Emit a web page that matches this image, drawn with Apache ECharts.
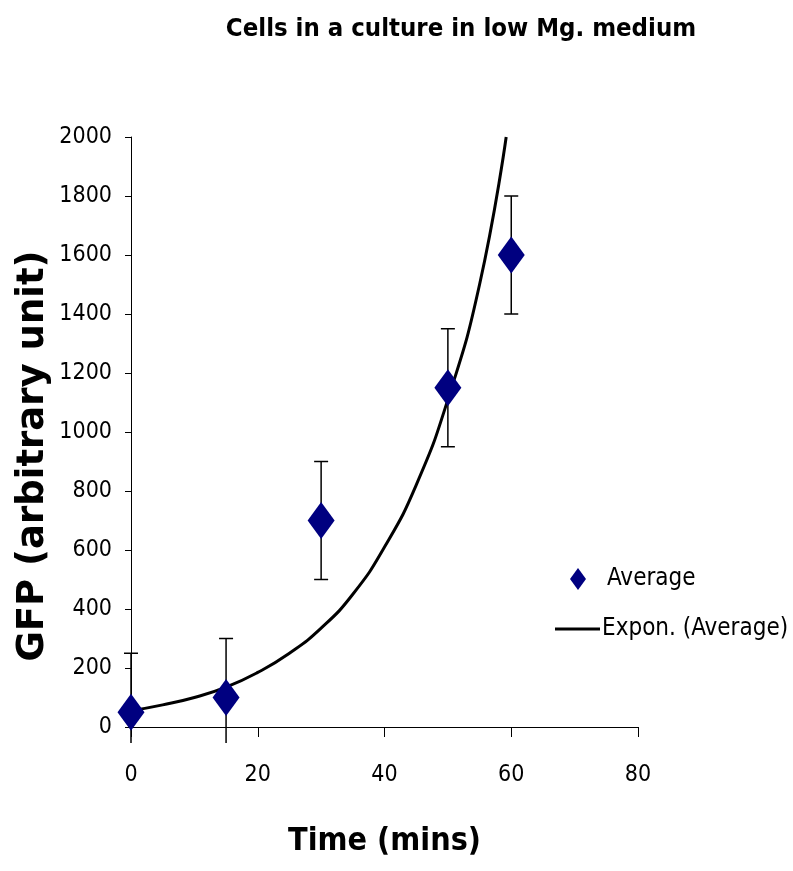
<!DOCTYPE html>
<html>
<head>
<meta charset="utf-8">
<script src="https://cdn.jsdelivr.net/npm/echarts@6/dist/echarts.min.js"></script>
<style>
  html, body { margin: 0; padding: 0; background: #fff; }
  #chart { width: 793px; height: 871px; }
</style>
</head>
<body>
<div id="chart"></div>
<script>
// Measured GFP averages over time, with symmetric error (same units)
var times = [0, 15, 30, 50, 60];
var averages = [50, 100, 700, 1150, 1600];
var errors = [200, 200, 200, 200, 200];

// Exponential trendline of the averages, sampled along the curve
var trendX = [0, 5, 10, 15, 20, 25, 30, 35, 40, 45, 50, 55, 59.2];
var trendY = [55, 75, 100, 135, 185, 250, 335, 450, 610, 820, 1110, 1500, 2000];

var xTicks = [0, 20, 40, 60, 80];
var yTicks = [0, 200, 400, 600, 800, 1000, 1200, 1400, 1600, 1800, 2000];

var sans = '"DejaVu Sans Condensed", "Liberation Sans", Arial, sans-serif';

var chart = echarts.init(document.getElementById('chart'), null, { renderer: 'canvas' });

var avgData = times.map(function (t, i) { return [t, averages[i]]; });
var errData = times.map(function (t, i) { return [t, averages[i] - errors[i], averages[i] + errors[i]]; });
var trendData = trendX.map(function (t, i) { return [t, trendY[i]]; });

chart.setOption({
  animation: false,
  backgroundColor: '#ffffff',
  title: {
    text: 'Cells in a culture in low Mg. medium',
    left: 456,
    top: 11,
    textAlign: 'center',
    textStyle: { fontFamily: sans, fontWeight: 'bold', fontSize: 25.5, color: '#000' }
  },
  legend: [
    {
      data: [{ name: 'Average', icon: 'diamond' }],
      left: 570, top: 567, padding: 0,
      itemWidth: 16, itemHeight: 22,
      textStyle: { fontFamily: sans, fontSize: 24, color: '#000', padding: [0, 0, 0, 16] }
    },
    {
      data: [{ name: 'Expon. (Average)', icon: 'rect', itemStyle: { color: '#000' } }],
      left: 555, top: 617, padding: 0,
      itemWidth: 45, itemHeight: 3,
      textStyle: { fontFamily: sans, fontSize: 24, color: '#000', padding: [0, 0, 0, -3] }
    }
  ],
  grid: { left: 131, right: 155, top: 137, bottom: 144, containLabel: false, outerBoundsMode: 'none' },
  xAxis: {
    type: 'value',
    min: xTicks[0], max: xTicks[xTicks.length - 1], interval: 20,
    name: 'Time (mins)',
    nameLocation: 'middle',
    nameGap: 99,
    nameMoveOverlap: false,
    nameTextStyle: { fontFamily: sans, fontWeight: 'bold', fontSize: 32, color: '#000' },
    axisLine: { show: true, onZero: false, lineStyle: { color: '#000', width: 1 } },
    axisTick: { show: true, inside: false, length: 10, lineStyle: { color: '#000' } },
    axisLabel: { margin: 37, fontFamily: sans, fontSize: 23, color: '#000' },
    splitLine: { show: false }
  },
  yAxis: {
    type: 'value',
    min: yTicks[0], max: yTicks[yTicks.length - 1], interval: 200,
    name: 'GFP (arbitrary unit)',
    nameLocation: 'middle',
    nameGap: 79,
    nameMoveOverlap: false,
    nameTextStyle: {
      fontFamily: '"DejaVu Sans", sans-serif', fontWeight: 'bold', fontSize: 37, color: '#000',
      padding: [0, 48, 0, 0]
    },
    axisLine: { show: true, onZero: false, lineStyle: { color: '#000', width: 1 } },
    axisTick: { show: true, inside: false, length: 6, lineStyle: { color: '#000' } },
    axisLabel: {
      margin: 19, fontFamily: sans, fontSize: 23, color: '#000',
      formatter: function (v) { return String(v); }
    },
    splitLine: { show: false }
  },
  series: [
    {
      name: 'Error',
      type: 'custom',
      clip: false,
      silent: true,
      z: 1,
      data: errData,
      renderItem: function (params, api) {
        var x = api.value(0);
        var lo = api.coord([x, api.value(1)]);
        var hi = api.coord([x, api.value(2)]);
        var base = api.coord([x, 0]);
        // bars are cut off a little below the plot floor
        var loY = Math.min(lo[1], base[1] + 16);
        var cap = 7;
        var children = [
          { type: 'line', shape: { x1: hi[0], y1: hi[1], x2: hi[0], y2: loY } },
          { type: 'line', shape: { x1: hi[0] - cap, y1: hi[1], x2: hi[0] + cap, y2: hi[1] } }
        ];
        if (lo[1] <= base[1]) {
          children.push({ type: 'line', shape: { x1: lo[0] - cap, y1: lo[1], x2: lo[0] + cap, y2: lo[1] } });
        }
        children.forEach(function (c) { c.style = { stroke: '#000', lineWidth: 1.5 }; });
        return { type: 'group', children: children };
      }
    },
    {
      name: 'Expon. (Average)',
      type: 'line',
      data: trendData,
      smooth: true,
      showSymbol: false,
      clip: false,
      z: 2,
      lineStyle: { color: '#000', width: 3 },
      itemStyle: { color: '#000' }
    },
    {
      name: 'Average',
      type: 'scatter',
      data: avgData,
      symbol: 'diamond',
      symbolSize: [27, 37],
      clip: false,
      z: 3,
      itemStyle: { color: '#000080', opacity: 1 }
    }
  ]
});
</script>
</body>
</html>
